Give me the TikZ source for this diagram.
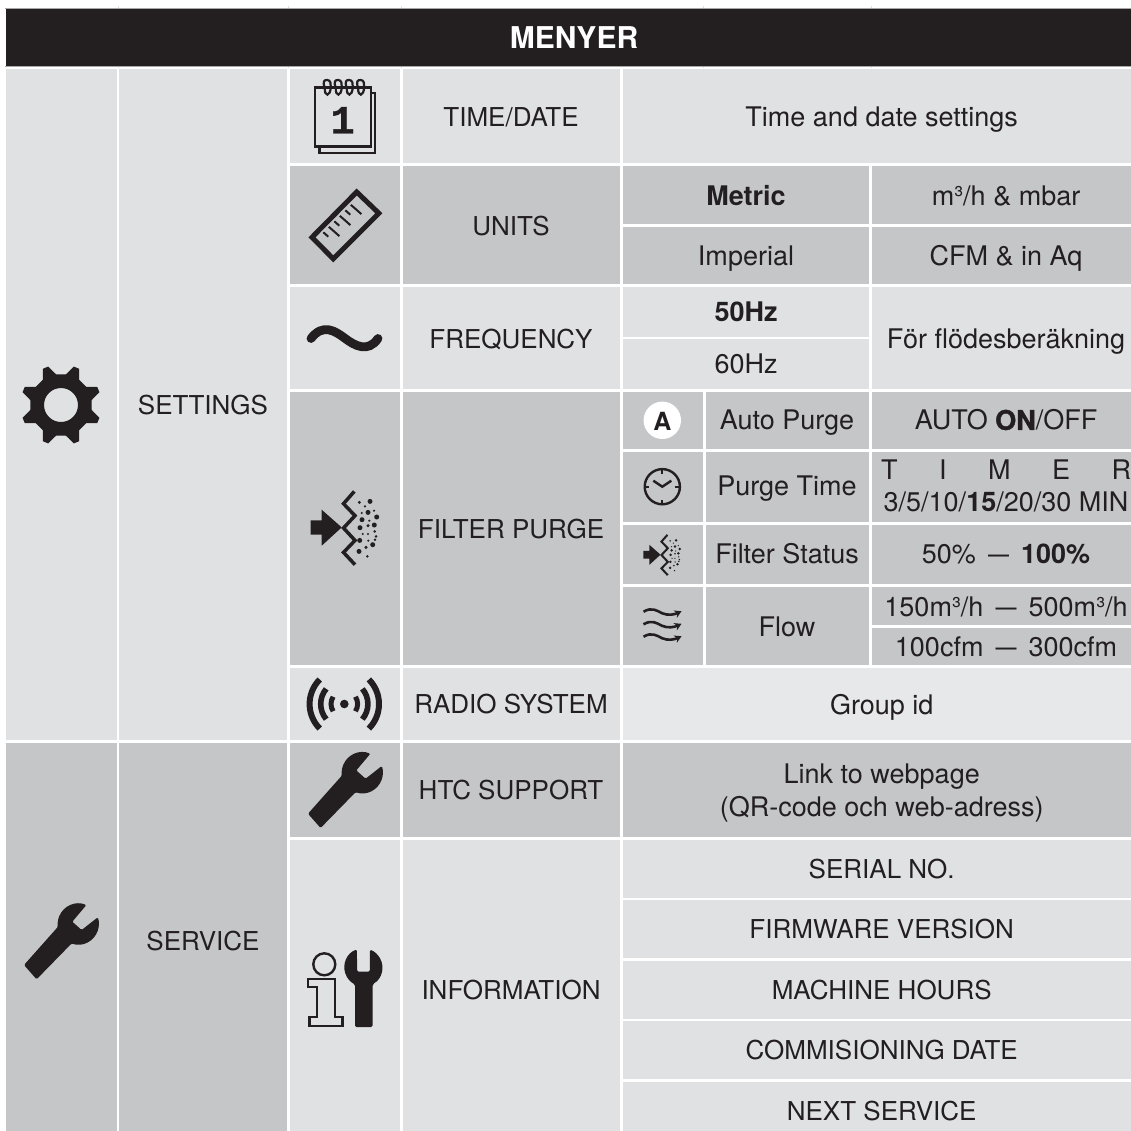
\documentclass[tikz,border=0pt]{standalone}
\usepackage{fontspec}
\usepackage{graphicx}
\usetikzlibrary{arrows.meta}
\setmainfont{TeX Gyre Heros}
\newfontface\onface[FakeBold=1.6]{TeX Gyre Heros Bold}
\newfontface\slabface[FakeBold=1]{Liberation Mono Bold}
\definecolor{ink}{HTML}{231F20}
\definecolor{darkcell}{HTML}{C5C6C8}
\definecolor{lightcell}{HTML}{E0E1E3}
\definecolor{palecell}{HTML}{E7E8E9}
\definecolor{rulegray}{HTML}{A8A8A8}
\definecolor{tickgray}{HTML}{DEDEDE}
\tikzset{
  cellbox/.style={inner sep=0pt,outer sep=0pt,draw=none,rectangle},
  lab/.style={inner sep=0pt,outer sep=0pt,anchor=base,yshift=-0.8pt,text=ink,font=\fontsize{26}{30}\selectfont},
  labmixed/.style={lab,font=\fontsize{27}{30}\selectfont},
}
\newcommand{\cell}[6]{%
  \pgfmathsetmacro{\cw}{#4-#2}\pgfmathsetmacro{\ch}{#5-#3}%
  \pgfmathsetmacro{\cx}{(#4+#2)/2}\pgfmathsetmacro{\cy}{(#5+#3)/2}%
  \node[cellbox,fill=#6,minimum width=\cw pt,minimum height=\ch pt] (#1) at (\cx,\cy) {};}
\newcommand{\lab}[4]{\node[lab] (#1) at (#2,#3) {#4};}
\newcommand{\mlab}[4]{\node[labmixed] (#1) at (#2,#3) {#4};}
\newcommand{\mdash}{\,\scalebox{1.4}[1]{–}\,}
\newcommand{\wrenchico}[2]{%
  \fill[ink,rounded corners=1.2,shift={(#1,#2)}]
    (-67:20.6) arc (-67:-188:20.6) -- (-54.3,41) -- (-41.7,55.3) -- (109:20.6) arc (109:-19:20.6)
    -- (3.3,6) -- (-6,-2.3) -- cycle;}
\newcommand{\filterico}[3]{%
  \begin{scope}[shift={(#1,#2)},scale=#3,shift={(-45,-48.3)}]
    \fill[ink] (10.7,40.7) -- (21.7,40.7) -- (21.7,30) -- (41.7,47.7) -- (21.7,66) -- (21.7,55) -- (10.7,55) -- cycle;
    \draw[ink,line width=#3*3.3pt+0.2pt] (54.3,11.7) -- (43.5,24) -- (55,36) -- (43.5,48.3) -- (55,60.7) -- (43.5,72.7) -- (55,85);
    \foreach \dx/\dy/\dr in {70/21.7/2.5,59.3/22.7/1.6,65/26.7/1.2,68/32.7/2.5,61.7/33.3/1.2,74/31/1.2,76.7/37.3/2.5,62/40/2.5,69.3/41/1.2,74.3/45.3/2.5,68/46/1.7,60/48/2.5,62.7/54.3/1.2,68/54.3/1.2,74.7/51.7/1.4,76/56.7/1.4,59.7/60.7/2.5,68.3/61/1.2,75/60/1.4,72.7/65/2.5,66/67.7/1.7,59/71.7/2.5,67.3/76.7/1.4}
      {\fill[ink] (\dx,\dy) circle (\dr);}
  \end{scope}}
\begin{document}
\begin{tikzpicture}[x=1pt,y=-1pt]
\clip (0,0) rectangle (1131,1131);
\fill[white] (0,0) rectangle (1131,1131);
% faint marks above and rules round the header
\foreach \tx in {118,288,401,703,871}{\draw[tickgray,line width=.8pt] (\tx,6) -- (\tx,9);\draw[tickgray,line width=.8pt] (\tx,66) -- (\tx,68);}
\draw[rulegray,line width=1pt] (5,8.5) -- (1131,8.5);
\draw[rulegray,line width=1pt] (5,66.5) -- (1131,66.5);
% cells
\cell{header}{6}{9}{1131}{66}{ink}
\cell{setIcon}{6}{68.7}{116.7}{740}{lightcell}
\cell{setName}{119.3}{68.7}{287.3}{740}{lightcell}
\cell{srvIcon}{6}{742.7}{116.7}{1131}{darkcell}
\cell{srvName}{119.3}{742.7}{287.3}{1131}{darkcell}
\cell{timeIcon}{289.7}{68.7}{400}{163}{lightcell}
\cell{timeName}{403}{68.7}{620}{163}{lightcell}
\cell{timeVal}{622.5}{68.7}{1131}{163}{lightcell}
\cell{unitIcon}{289.7}{166}{400}{284}{darkcell}
\cell{unitName}{403}{166}{620}{284}{darkcell}
\cell{metric}{622.5}{166}{869}{223.7}{darkcell}
\cell{metricVal}{871.7}{166}{1131}{223.7}{darkcell}
\cell{imperial}{622.5}{226.7}{869}{284}{darkcell}
\cell{imperialVal}{871.7}{226.7}{1131}{284}{darkcell}
\cell{freqIcon}{289.7}{286.7}{400}{388.7}{lightcell}
\cell{freqName}{403}{286.7}{620}{388.7}{lightcell}
\cell{hzA}{622.5}{286.7}{869}{336.7}{lightcell}
\cell{hzB}{622.5}{339.3}{869}{388.7}{lightcell}
\cell{hzVal}{871.7}{286.7}{1131}{388.7}{lightcell}
\cell{filtIcon}{289.7}{391.7}{400}{665.3}{darkcell}
\cell{filtName}{403}{391.7}{620}{665.3}{darkcell}
\cell{autoIcon}{622.5}{391.7}{702.7}{449.3}{darkcell}
\cell{autoName}{705.7}{391.7}{869}{449.3}{darkcell}
\cell{autoVal}{871.7}{391.7}{1131}{449.3}{darkcell}
\cell{ptIcon}{622.5}{452}{702.7}{521.7}{darkcell}
\cell{ptName}{705.7}{452}{869}{521.7}{darkcell}
\cell{ptVal}{871.7}{452}{1131}{521.7}{darkcell}
\cell{fsIcon}{622.5}{524.5}{702.7}{584.3}{darkcell}
\cell{fsName}{705.7}{524.5}{869}{584.3}{darkcell}
\cell{fsVal}{871.7}{524.5}{1131}{584.3}{darkcell}
\cell{flIcon}{622.5}{587.3}{702.7}{665.3}{darkcell}
\cell{flName}{705.7}{587.3}{869}{665.3}{darkcell}
\cell{flA}{871.7}{587.3}{1131}{625}{darkcell}
\cell{flB}{871.7}{628}{1131}{665.3}{darkcell}
\cell{radIcon}{289.7}{668.3}{400}{740}{lightcell}
\cell{radName}{403}{668.3}{620}{740}{lightcell}
\cell{radVal}{622.5}{668.3}{1131}{740}{palecell}
\cell{htcIcon}{289.7}{742.7}{400}{837.3}{darkcell}
\cell{htcName}{403}{742.7}{620}{837.3}{darkcell}
\cell{htcVal}{622.5}{742.7}{1131}{837.3}{darkcell}
\cell{infIcon}{289.7}{840}{400}{1131}{lightcell}
\cell{infName}{403}{840}{620}{1131}{lightcell}
\cell{infA}{622.5}{840}{1131}{897.7}{lightcell}
\cell{infB}{622.5}{900}{1131}{958}{lightcell}
\cell{infC}{622.5}{960.5}{1131}{1019}{lightcell}
\cell{infD}{622.5}{1021.3}{1131}{1079.3}{lightcell}
\cell{infE}{622.5}{1082}{1131}{1131}{lightcell}
% labels
\node[lab,text=white,font=\fontsize{30}{32}\selectfont\bfseries] (tHead) at (574,48) {MENYER};
\lab{tSet}{203}{414}{SETTINGS}
\lab{tSrv}{203}{950}{SERVICE}
\lab{tTime}{511}{126}{TIME/DATE}
\mlab{tTimeV}{881.7}{126}{Time and date settings}
\lab{tUnit}{511}{235}{UNITS}
\mlab{tMet}{746}{205}{\textbf{Metric}}
\mlab{tMetV}{1006}{205}{m³/h \& mbar}
\mlab{tImp}{746}{265}{Imperial}
\mlab{tImpV}{1006}{265}{CFM \& in Aq}
\lab{tFreq}{511}{348}{FREQUENCY}
\mlab{tHzA}{746}{321}{\textbf{50Hz}}
\mlab{tHzB}{746}{373}{60Hz}
\mlab{tHzV}{1006}{348}{För flödesberäkning}
\lab{tFilt}{511}{537.7}{FILTER PURGE}
\mlab{tAuto}{787}{429}{Auto Purge}
\mlab{tAutoV}{1006}{429}{AUTO {\onface ON}/OFF}
\mlab{tPt}{787}{495}{Purge Time}
\mlab{tTimer}{1006}{479}{\makebox[250pt]{T\hfill I\hfill M\hfill E\hfill R}}
\mlab{tMin}{1006}{511}{3/5/10/\textbf{15}/20/30 MIN}
\mlab{tFs}{787}{563}{Filter Status}
\mlab{tFsV}{1006}{563}{50\% \mdash{} \textbf{100\%}}
\mlab{tFl}{787}{636}{Flow}
\mlab{tFlA}{1006}{616}{150m³/h \mdash{} 500m³/h}
\mlab{tFlB}{1006}{656}{100cfm \mdash{} 300cfm}
\lab{tRad}{511}{713}{RADIO SYSTEM}
\mlab{tRadV}{881.7}{714}{Group id}
\lab{tHtc}{511}{799}{HTC SUPPORT}
\mlab{tLink}{881.7}{783}{Link to webpage}
\mlab{tQr}{881.7}{816}{(QR-code och web-adress)}
\lab{tInf}{511}{999}{INFORMATION}
\lab{tSer}{881.7}{878}{SERIAL NO.}
\lab{tFw}{881.7}{938}{FIRMWARE VERSION}
\lab{tMh}{881.7}{999}{MACHINE HOURS}
\lab{tCd}{881.7}{1059}{COMMISIONING DATE}
\lab{tNs}{881.7}{1120}{NEXT SERVICE}
% gear
\begin{scope}[shift={(61,405)}]
\fill[ink,even odd rule]
  (9:31) \foreach \ga in {22.5,67.5,112.5,157.5,202.5,247.5,292.5,337.5}{ -- (\ga-13.5:31) -- (\ga-4:40.5) -- (\ga+4:40.5) -- (\ga+13.5:31)} -- cycle
  (0,0) circle (17);
\end{scope}
% wrenches
\wrenchico{78.3}{924}
\wrenchico{362.3}{772.7}
% calendar
\draw[ink,line width=2.4pt] (371,93.3) -- (374.7,93.3) -- (374.7,153.3) -- (319.5,153.3) -- (319.5,147);
\draw[ink,line width=2.4pt] (315,87.5) rectangle (370.7,146.5);
\foreach \rx in {327.3,338.3,349.3,360.7}{
  \draw[ink,line width=2.2pt] (\rx-2.5,88) .. controls (\rx-5,81) and (\rx-3,80) .. (\rx,80) .. controls (\rx+3,80) and (\rx+4,84) .. (\rx+3.5,87) .. controls (\rx+3,97) and (\rx-3,97) .. (\rx-2.5,88);
}
\node[inner sep=0pt,outer sep=0pt,anchor=base,text=ink,font=\fontsize{40}{40}\slabface] (calDigit) at (342.7,133.5) {1};
% ruler
\draw[ink,line width=5pt,line join=miter] (356.7,192) -- (378.9,213.3) -- (333.3,258.9) -- (312,237.3) -- cycle;
\foreach \rtx/\rty/\rlx/\rly in {323.3/232.3/5/4.4,328.8/226.8/10.6/9.3,334.3/221.3/5/4.4,339.8/215.8/10.6/9.3,345.3/210.3/5/4.4,350.8/204.8/10.6/9.3}
  {\draw[ink,line width=2pt] (\rtx,\rty) -- ++(\rlx,\rly);}
% tilde
\draw[ink,line width=8.8pt,line cap=round] (311,338.5) .. controls (323,323) and (335,331) .. (344.5,338) .. controls (355,346) and (368,353) .. (378,338.5);
% large and small filter icons
\filterico{345}{528}{1}
\filterico{662.3}{555}{0.55}
% A badge
\node[circle,fill=white,draw=none,minimum size=37.4pt,inner sep=0pt,outer sep=0pt] (badge) at (662.3,420.3) {};
\node[lab,yshift=0pt,font=\fontsize{25}{25}\selectfont\bfseries] (badgeA) at (662.3,429.2) {A};
% clock
\begin{scope}[shift={(662.3,486.7)}]
\draw[ink,line width=2.4pt] (0,0) circle (17.6);
\foreach \ca in {0,90,180,270}{\draw[ink,line width=2pt] (\ca:17.6) -- (\ca:13);}
\draw[ink,line width=2.4pt] (-9,-6) -- (0,0) -- (9,-6);
\end{scope}
% flow
\foreach \fy in {611.7,624.3,636.7}{
  \draw[ink,line width=2.6pt,-{Stealth[length=7pt,width=8pt]}] (643.5,\fy) .. controls (652,\fy-5) and (657,\fy-1) .. (662,\fy+1.5) .. controls (668,\fy+4) and (674,\fy+3) .. (681.5,\fy-0.5);
}
% radio
\begin{scope}[shift={(344.3,704)}]
\fill[ink] (0,0) circle (4.3);
\foreach \rr/\rw/\rg in {13.3/5/33,23.6/5.6/40,34.7/6/45}{
  \draw[ink,line width=\rw pt] (180-\rg:\rr) arc (180-\rg:180+\rg:\rr);
  \draw[ink,line width=\rw pt] (-\rg:\rr) arc (-\rg:\rg:\rr);
}
\end{scope}
% information icon
\draw[ink,line width=2.4pt] (324.3,964.3) circle (11);
\draw[ink,line width=2.4pt,line join=miter] (308,979) -- (335,979) -- (335,1017) -- (342.3,1017) -- (342.3,1026) -- (309.3,1026) -- (309.3,1017) -- (316.7,1017) -- (316.7,987) -- (308,987) -- cycle;
\begin{scope}[shift={(363.3,967.3)}]
\fill[ink,rounded corners=1.5] (-109.4:19) arc (-109.4:-244.1:19) -- (-8.3,59.7) -- (9.4,59.7) -- (9.4,16.8) arc (60.8:-70.6:19) -- (6.7,4.4) -- (-6.3,4.4) -- cycle;
\end{scope}
\end{tikzpicture}
\end{document}
